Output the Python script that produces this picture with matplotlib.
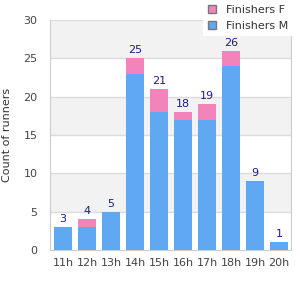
import matplotlib
matplotlib.use("Agg")
import matplotlib.pyplot as plt
from matplotlib.patches import Patch

hours = ["11h", "12h", "13h", "14h", "15h", "16h", "17h", "18h", "19h", "20h"]
finishers_m = [3, 3, 5, 23, 18, 17, 17, 24, 9, 1]
finishers_f = [0, 1, 0, 2, 3, 1, 2, 2, 0, 0]
totals = [m + f for m, f in zip(finishers_m, finishers_f)]

blue = "#60a8f2"
pink = "#f284bc"

fig = plt.figure(figsize=(3, 3), dpi=100)
ax = fig.add_axes([50 / 300, 50 / 300, 241 / 300, 230 / 300])

# alternating bands
for lo in range(5, 30, 10):
    ax.axhspan(lo, lo + 5, color="#f2f2f2", zorder=0, lw=0)
for y in range(5, 31, 5):
    ax.axhline(y, color="#dcdcdc", lw=1, zorder=1)

x = range(len(hours))
ax.bar(x, finishers_m, width=0.75, color=blue, zorder=2)
ax.bar(x, finishers_f, width=0.75, bottom=finishers_m, color=pink, zorder=2)

for i, t in enumerate(totals):
    ax.text(i, t + 0.4, str(t), ha="center", va="bottom", fontsize=8, color="#1c1c8c")

ax.set_xlim(-0.54, 9.5)
ax.set_ylim(0, 30)
ax.set_yticks(range(0, 31, 5))
ax.set_xticks(list(x))
ax.set_xticklabels(hours)
ax.tick_params(length=0, labelsize=8, labelcolor="#444444", pad=6)
ax.tick_params(axis="y", pad=9)
for s in ["left", "right", "bottom"]:
    ax.spines[s].set_color("#cccccc")
ax.spines["top"].set_visible(False)
ax.set_ylabel("Count of runners", fontsize=8, color="#333333", labelpad=8)

handles = [Patch(facecolor=pink, edgecolor="#777777", label="Finishers F"),
           Patch(facecolor=blue, edgecolor="#777777", label="Finishers M")]
leg = fig.legend(handles=handles, loc="upper left", bbox_to_anchor=(203 / 300, 1.0),
                 fontsize=8, frameon=True, handlelength=0.7, handleheight=0.7,
                 handletextpad=0.9, labelspacing=0.5, borderpad=0.45, borderaxespad=0)
leg.get_frame().set_edgecolor("none")
leg.get_frame().set_facecolor("white")
leg.get_frame().set_alpha(1)
leg.get_frame().set_boxstyle("square", pad=0)
for t in leg.get_texts():
    t.set_color("#333333")
leg.set_zorder(10)

fig.savefig("out.png", dpi=100)
